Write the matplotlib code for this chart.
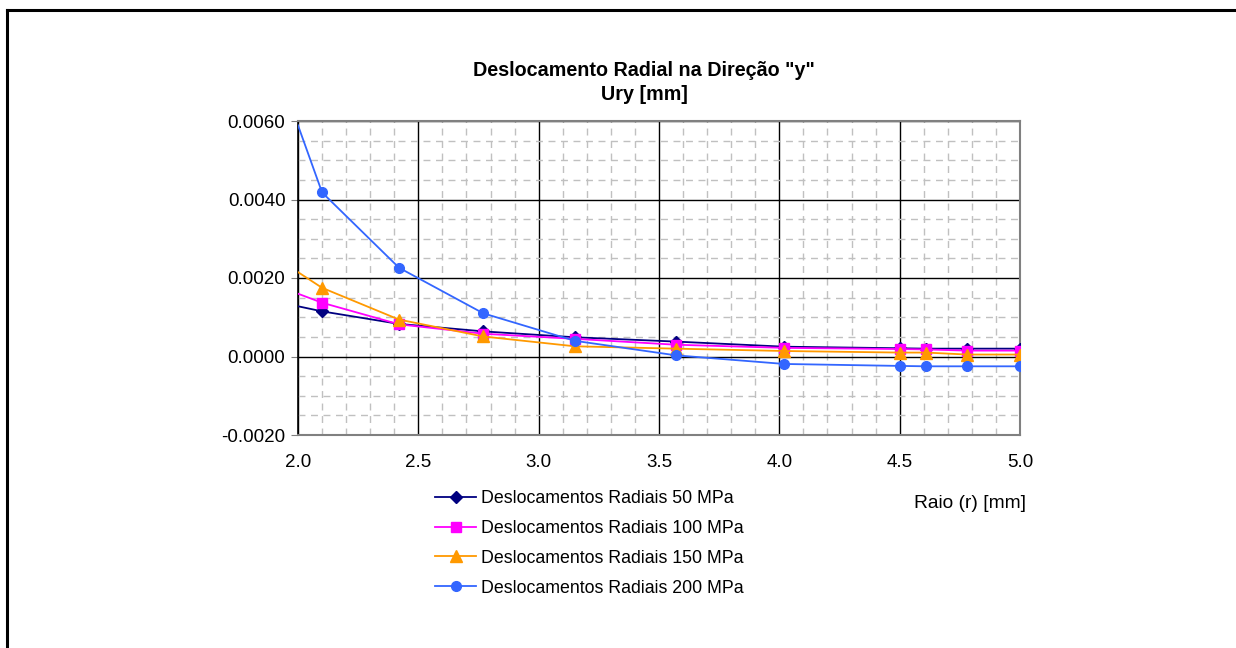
import matplotlib
matplotlib.use("Agg")
import matplotlib.pyplot as plt
from matplotlib.ticker import MultipleLocator, FormatStrFormatter
from matplotlib.lines import Line2D

plt.rcParams['font.family'] = ['Liberation Sans', 'DejaVu Sans']

# Data
raio = [2.0, 2.1, 2.42, 2.77, 3.15, 3.57, 4.02, 4.5, 4.61, 4.78, 5.0]
u50 = [0.00128, 0.00115, 0.00083, 0.00064, 0.00049, 0.00038, 0.00025, 0.00021, 0.00020, 0.00020, 0.00020]
u100 = [0.00160, 0.00137, 0.00082, 0.00058, 0.00045, 0.00030, 0.00022, 0.00019, 0.00018, 0.00015, 0.00015]
u150 = [0.00215, 0.00175, 0.00094, 0.00051, 0.00026, 0.00020, 0.00014, 0.00010, 0.00010, 0.00005, 0.00005]
u200 = [0.00589, 0.00418, 0.00226, 0.00110, 0.00040, 0.00003, -0.00019, -0.00024, -0.00025, -0.00025, -0.00025]
labels = ["Deslocamentos Radiais 50 MPa", "Deslocamentos Radiais 100 MPa",
          "Deslocamentos Radiais 150 MPa", "Deslocamentos Radiais 200 MPa"]
xticks = [2.0, 2.5, 3.0, 3.5, 4.0, 4.5, 5.0]
yticks = [-0.002, 0.0, 0.002, 0.004, 0.006]

fig = plt.figure(figsize=(12.36, 6.48), dpi=100)
ax = fig.add_axes([298/1236, 1 - 435/648, (1020-298)/1236, (435-121)/648])

series = [
    (u50, '#000080', 'D', 6),
    (u100, '#FF00FF', 's', 7),
    (u150, '#FF9900', '^', 8),
    (u200, '#3366FF', 'o', 7),
]
handles = []
for (vals, col, mk, ms), lab in zip(series, labels):
    ax.plot(raio, vals, color=col, lw=1.3, marker=mk, ms=ms,
            markevery=list(range(1, len(raio))), zorder=3)
    handles.append(Line2D([], [], color=col, lw=1.3, marker=mk, ms=ms, label=lab))

ax.set_xlim(2.0, 5.0)
ax.set_ylim(-0.002, 0.006)
ax.set_xticks(xticks)
ax.set_yticks(yticks)
ax.xaxis.set_major_formatter(FormatStrFormatter('%.1f'))
ax.yaxis.set_major_formatter(FormatStrFormatter('%.4f'))
ax.xaxis.set_minor_locator(MultipleLocator(0.1))
ax.yaxis.set_minor_locator(MultipleLocator(0.0005))
ax.grid(which='minor', color='#c0c0c0', ls=(0, (5, 4)), lw=1.0, zorder=0)
ax.grid(which='major', color='black', ls='-', lw=1.0, zorder=1)
ax.tick_params(axis='both', which='major', labelsize=13.5, color='#808080')
ax.tick_params(axis='y', which='major', length=5, pad=4)
ax.tick_params(axis='x', which='major', length=0, pad=14)
ax.tick_params(which='minor', length=0)
for s in ['top', 'right', 'bottom']:
    ax.spines[s].set_color('#808080')
    ax.spines[s].set_linewidth(1.5)
ax.spines['left'].set_color('black')
ax.spines['left'].set_linewidth(1.2)
ax.set_axisbelow(True)

fig.text(644/1236, 1 - 70/648, 'Deslocamento Radial na Direção "y"', ha='center', va='center',
         fontsize=14.2, fontweight='bold')
fig.text(644/1236, 1 - 95/648, 'Ury [mm]', ha='center', va='center',
         fontsize=14.2, fontweight='bold')
fig.text(970/1236, 1 - 503/648, 'Raio (r) [mm]', ha='center', va='center', fontsize=13.8)

leg = fig.legend(handles=handles, loc='upper left', bbox_to_anchor=(428/1236, 1 - 483/648),
                 frameon=False, fontsize=12.8, handlelength=2.3, handletextpad=0.3,
                 labelspacing=0.72, borderaxespad=0, numpoints=1)

# outer border (top and left)
fig.add_artist(Line2D([7/1236, 1], [1 - 10/648, 1 - 10/648], color='black', lw=2.2,
                      transform=fig.transFigure))
fig.add_artist(Line2D([7/1236, 7/1236], [0, 1 - 10/648], color='black', lw=2.2,
                      transform=fig.transFigure))

fig.savefig('out.png', dpi=100)
